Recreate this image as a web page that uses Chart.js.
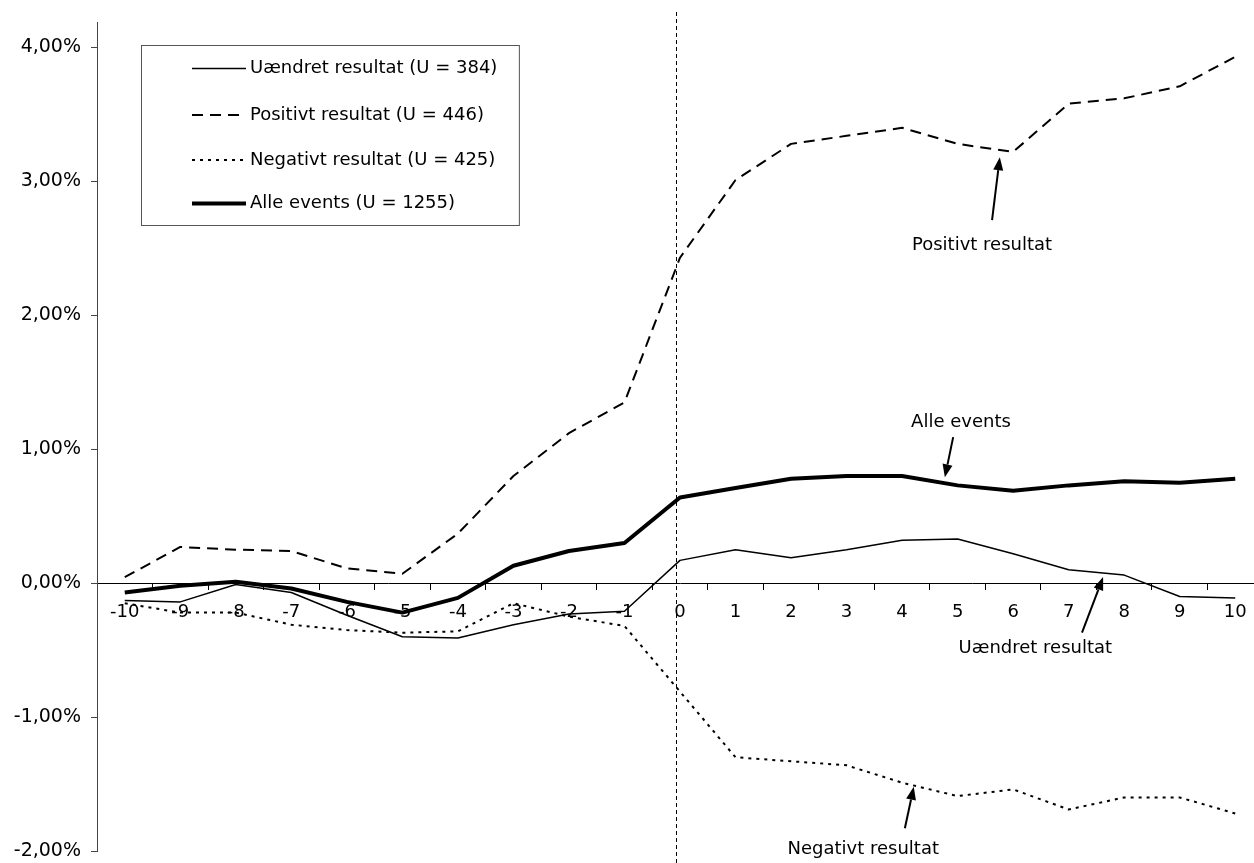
<!DOCTYPE html>
<html>
<head>
<meta charset="utf-8">
<script src="https://cdn.jsdelivr.net/npm/chart.js@4.4.1/dist/chart.umd.min.js"></script>
<style>
  html, body { margin: 0; padding: 0; background: #fff; overflow: hidden; }
  #wrap { position: relative; width: 1263px; height: 863px; }
</style>
</head>
<body>
<div id="wrap"><canvas id="c"></canvas></div>
<script>
const categories = ['-10','-9','-8','-7','-6','-5','-4','-3','-2','-1','0','1','2','3','4','5','6','7','8','9','10'];

const uaendret = [-0.13,-0.14,-0.01,-0.07,-0.24,-0.40,-0.41,-0.31,-0.23,-0.21,0.17,0.25,0.19,0.25,0.32,0.33,0.22,0.10,0.06,-0.10,-0.11];
const positivt = [0.045,0.27,0.25,0.24,0.11,0.07,0.37,0.80,1.12,1.35,2.43,3.01,3.28,3.34,3.40,3.28,3.22,3.58,3.62,3.71,3.93];
const negativt = [-0.15,-0.22,-0.22,-0.31,-0.35,-0.37,-0.36,-0.15,-0.25,-0.32,-0.81,-1.30,-1.33,-1.36,-1.49,-1.59,-1.54,-1.69,-1.60,-1.60,-1.72];
const alleEvents = [-0.07,-0.02,0.01,-0.04,-0.14,-0.22,-0.11,0.13,0.24,0.30,0.64,0.71,0.78,0.80,0.80,0.73,0.69,0.73,0.76,0.75,0.78];

const seriesNames = ['Uændret resultat (U = 384)','Positivt resultat (U = 446)','Negativt resultat (U = 425)','Alle events (U = 1255)'];
const yTicks = [-2,-1,0,1,2,3,4];

// Annotations in data coordinates (category index, value)
const annotations = [
  { text: 'Positivt resultat', tx: 15.44, ty: 2.52, ax: 15.62, ay: 2.71, hx: 15.76, hy: 3.18 },
  { text: 'Alle events',       tx: 15.06, ty: 1.20, ax: 14.92, ay: 1.09, hx: 14.77, hy: 0.79 },
  { text: 'Uændret resultat',  tx: 16.40, ty: -0.49, ax: 17.24, ay: -0.37, hx: 17.62, hy: 0.045 },
  { text: 'Negativt resultat', tx: 13.30, ty: -1.99, ax: 14.05, ay: -1.83, hx: 14.21, hy: -1.52 }
];
const eventIndex = 10;

const FONT = 'DejaVu Sans';
const FS = 18;

const extras = {
  id: 'extras',
  afterDatasetsDraw(chart) {
    const ctx = chart.ctx;
    const xs = chart.scales.x, ys = chart.scales.y;
    // vertical dashed event line
    ctx.save();
    ctx.strokeStyle = '#000';
    ctx.lineWidth = 1;
    ctx.setLineDash([4, 3]);
    const vx = Math.round(xs.getPixelForValue(eventIndex)) - 3.5;
    ctx.beginPath();
    ctx.moveTo(vx, 12);
    ctx.lineTo(vx, chart.height);
    ctx.stroke();
    ctx.restore();

    // annotations
    ctx.save();
    ctx.font = FS + 'px "' + FONT + '"';
    ctx.fillStyle = '#000';
    ctx.textAlign = 'center';
    ctx.textBaseline = 'middle';
    annotations.forEach(a => {
      ctx.fillText(a.text, xs.getPixelForValue(a.tx), ys.getPixelForValue(a.ty));
      const x1 = xs.getPixelForValue(a.ax), y1 = ys.getPixelForValue(a.ay);
      const x2 = xs.getPixelForValue(a.hx), y2 = ys.getPixelForValue(a.hy);
      const ang = Math.atan2(y2 - y1, x2 - x1);
      const L = 13, W = 5;
      const bx = x2 - L * Math.cos(ang), by = y2 - L * Math.sin(ang);
      ctx.strokeStyle = '#000';
      ctx.lineWidth = 2;
      ctx.beginPath();
      ctx.moveTo(x1, y1);
      ctx.lineTo(bx, by);
      ctx.stroke();
      ctx.beginPath();
      ctx.moveTo(x2, y2);
      ctx.lineTo(bx + W * Math.sin(ang), by - W * Math.cos(ang));
      ctx.lineTo(bx - W * Math.sin(ang), by + W * Math.cos(ang));
      ctx.closePath();
      ctx.fill();
    });
    ctx.restore();

    // legend box
    ctx.save();
    ctx.font = FS + 'px "' + FONT + '"';
    let maxW = 0;
    chart.data.datasets.forEach(d => { maxW = Math.max(maxW, ctx.measureText(d.label).width); });
    const bx0 = 141.5, by0 = 45.5, sx0 = 192, sx1 = 246, tx0 = 250;
    const bw = tx0 + maxW + 22 - bx0, bh = 180;
    ctx.fillStyle = '#fff';
    ctx.fillRect(bx0, by0, bw, bh);
    ctx.strokeStyle = '#555';
    ctx.lineWidth = 1;
    ctx.strokeRect(bx0, by0, bw, bh);
    const rowsY = [68.5, 115, 160, 203.5];
    chart.data.datasets.forEach((d, i) => {
      const y = rowsY[i];
      ctx.strokeStyle = '#000';
      ctx.lineWidth = d.borderWidth;
      ctx.setLineDash(d.borderDash || []);
      ctx.beginPath();
      ctx.moveTo(sx0, y);
      ctx.lineTo(sx1, y);
      ctx.stroke();
      ctx.setLineDash([]);
      ctx.fillStyle = '#000';
      ctx.textAlign = 'left';
      ctx.textBaseline = 'middle';
      ctx.fillText(d.label, tx0, y);
    });
    ctx.restore();
  }
};

const common = { borderColor: '#000', backgroundColor: '#000', pointRadius: 0, pointHoverRadius: 0, tension: 0, fill: false, borderCapStyle: 'butt', borderJoinStyle: 'round' };

new Chart(document.getElementById('c'), {
  type: 'line',
  data: {
    labels: categories,
    datasets: [
      Object.assign({ label: seriesNames[0], data: uaendret, borderWidth: 1.5 }, common),
      Object.assign({ label: seriesNames[1], data: positivt, borderWidth: 2, borderDash: [11, 7] }, common),
      Object.assign({ label: seriesNames[2], data: negativt, borderWidth: 2, borderDash: [3, 5] }, common),
      Object.assign({ label: seriesNames[3], data: alleEvents, borderWidth: 4 }, common)
    ]
  },
  options: {
    responsive: true,
    maintainAspectRatio: false,
    animation: false,
    events: [],
    layout: { padding: { top: 22, bottom: 12, left: 0, right: 0 } },
    plugins: { legend: { display: false }, tooltip: { enabled: false } },
    scales: {
      x: {
        type: 'category',
        position: { y: 0 },
        offset: true,
        grid: { offset: true, drawOnChartArea: false, drawTicks: true, tickLength: 6, color: '#000' },
        border: { display: true, color: '#000', width: 1 },
        ticks: { color: '#000', font: { family: FONT, size: FS }, padding: 12, maxRotation: 0, autoSkip: false }
      },
      y: {
        min: -2,
        max: 4.19,
        afterBuildTicks: (s) => { s.ticks = yTicks.map(v => ({ value: v })); },
        afterFit: (s) => { s.width = 97; s.paddingTop = 0; s.paddingBottom = 0; },
        grid: { drawOnChartArea: false, drawTicks: true, tickLength: 6, color: '#444' },
        border: { display: true, color: '#444', width: 1 },
        ticks: {
          color: '#000',
          font: { family: FONT, size: 19 },
          padding: 10,
          callback: (v) => v.toFixed(2).replace('.', ',') + '%'
        }
      }
    }
  },
  plugins: [extras]
});
</script>
</body>
</html>
